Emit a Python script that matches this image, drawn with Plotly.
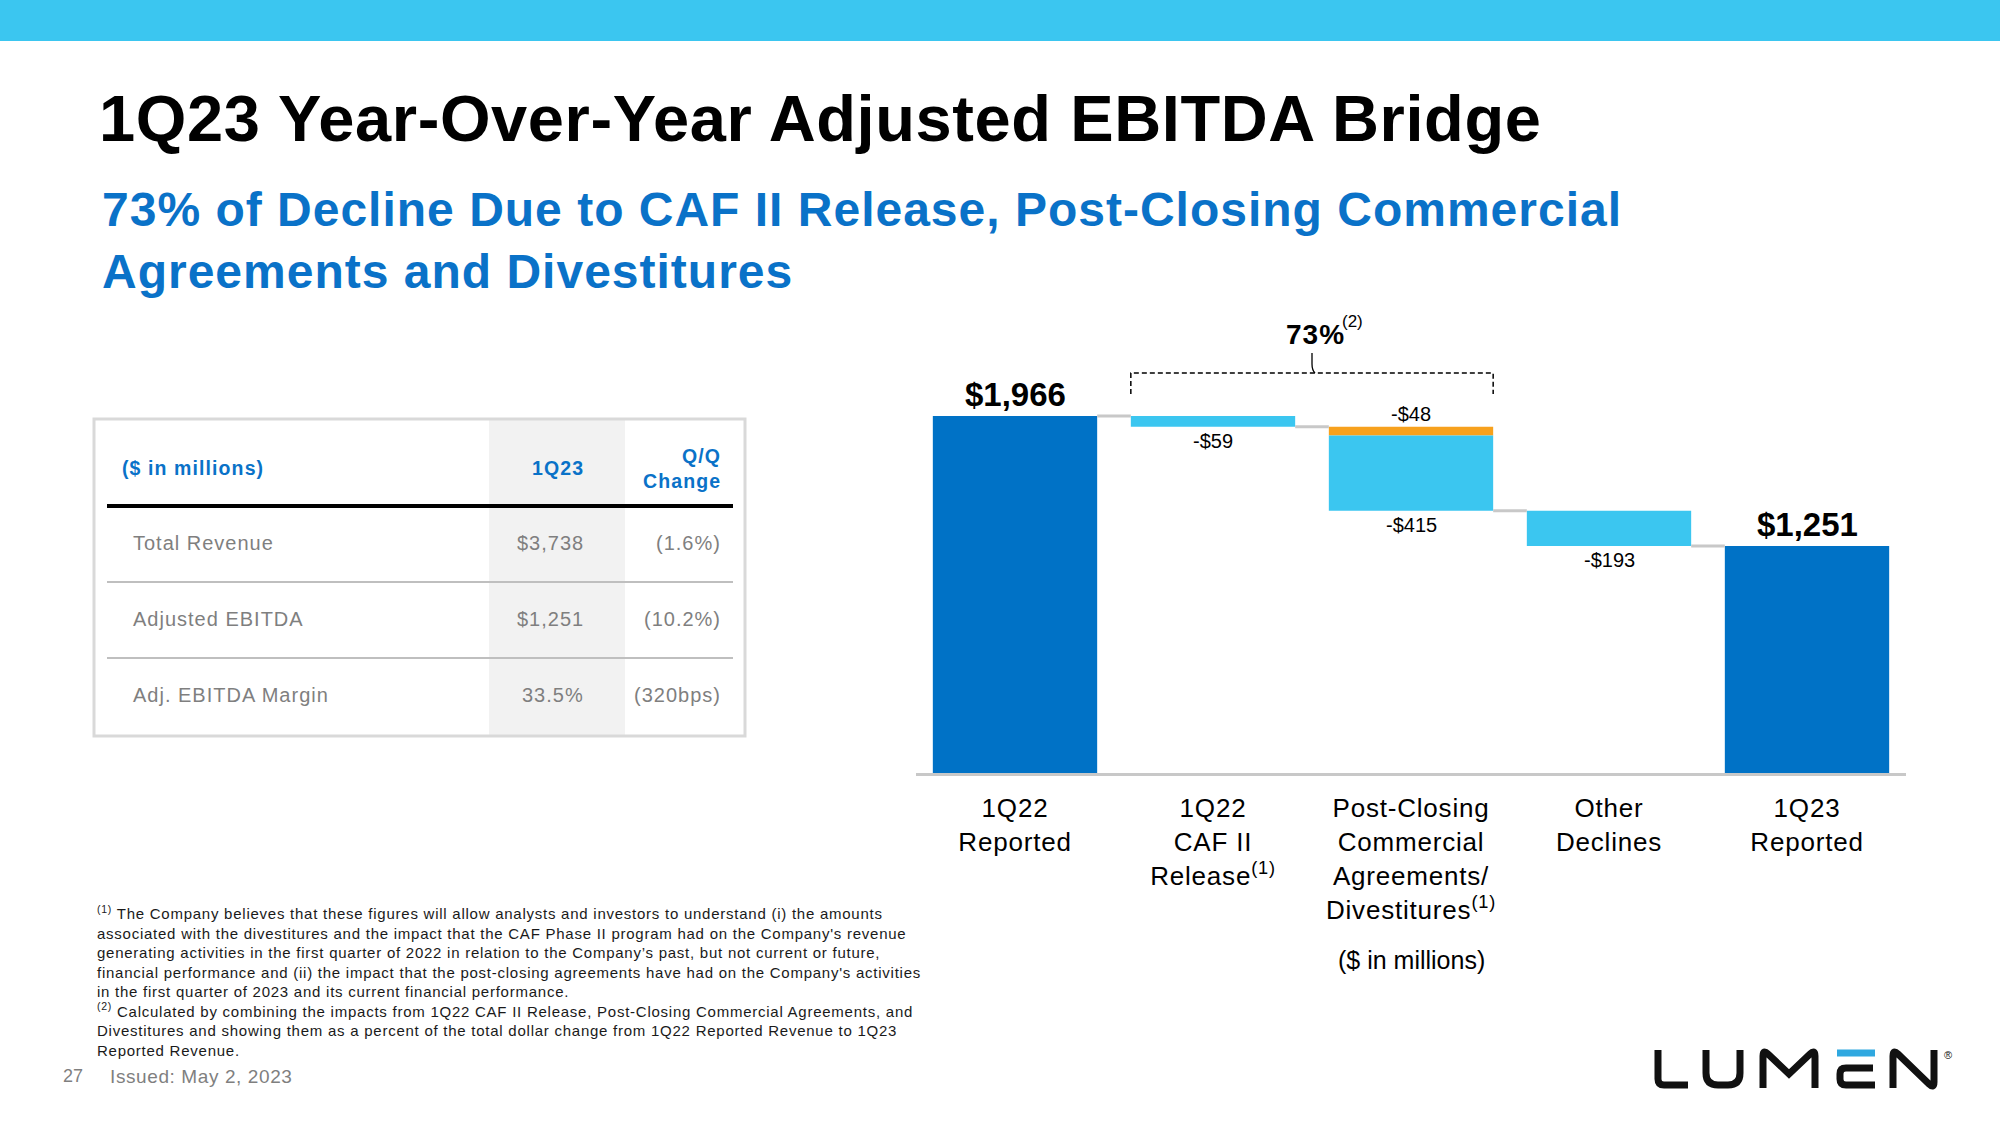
import plotly.graph_objects as go

# ---------------- data ----------------
categories = ["1Q22<br>Reported",
              "1Q22<br>CAF II<br>Release<sup>(1)</sup>",
              "Post-Closing<br>Commercial<br>Agreements/<br>Divestitures<sup>(1)</sup>",
              "Other<br>Declines",
              "1Q23<br>Reported"]
category_positions = [0, 1, 2, 3, 4]
total_positions = [0, 4]
total_values = [1966, 1251]
total_labels = ["$1,966", "$1,251"]
step_positions = [1, 2, 2, 3]
step_values = [-59, -48, -415, -193]
step_labels = ["-$59", "-$48", "-$415", "-$193"]
bracket_positions = [1, 2]
bracket_label = "73%"

table_columns = ["($ in millions)", "1Q23", "Q/Q<br>Change"]
table_metrics = ["Total Revenue", "Adjusted EBITDA", "Adj. EBITDA Margin"]
table_1q23 = ["$3,738", "$1,251", "33.5%"]
table_qq_change = ["(1.6%)", "(10.2%)", "(320bps)"]

footnotes = [
    "<sup>(1)</sup> The Company believes that these figures will allow analysts and investors to understand (i) the amounts",
    "associated with the divestitures and the impact that the CAF Phase II program had on the Company's revenue",
    "generating activities in the first quarter of 2022 in relation to the Company\u2019s past, but not current or future,",
    "financial performance and (ii) the impact that the post-closing agreements have had on the Company's activities",
    "in the first quarter of 2023 and its current financial performance.",
    "<sup>(2)</sup> Calculated by combining the impacts from 1Q22 CAF II Release, Post-Closing Commercial Agreements, and",
    "Divestitures and showing them as a percent of the total dollar change from 1Q22 Reported Revenue to 1Q23",
    "Reported Revenue.",
]

# ---------------- style ----------------
W, H = 2000, 1125
PL, PR, PT, PB = 916, 1906, 301, 773
XMIN, XMAX = -0.5, 4.5
YMAX = 2600
BW = 0.83
FONT = "Liberation Sans, Arial, Helvetica, sans-serif"
DARK = "#0072C6"
LIGHT = "#3BC6F0"
ORANGE = "#F7A11D"
BLUE_TXT = "#0A72C8"
GRAY_TXT = "#7F7F7F"
step_colors = [LIGHT, ORANGE, LIGHT, LIGHT]
step_label_side = ["below", "above", "below", "below"]


def fx(px):
    return (px - PL) / (PR - PL)


def fy(py):
    return (PB - py) / (PB - PT)


def xpx(d):
    return PL + (d - XMIN) / (XMAX - XMIN) * (PR - PL)


def ppath(cmds):
    out = []
    for c in cmds:
        op, pts = c[0], c[1:]
        coords = []
        for i in range(0, len(pts), 2):
            coords.append(f"{fx(pts[i]):.5f},{fy(pts[i + 1]):.5f}")
        out.append(op + " " + " ".join(coords))
    return " ".join(out)


def spaced(text, ls):
    return f"<span style='letter-spacing:{ls}px'>{text}</span>"


# ---------------- bars ----------------
running = total_values[0]
bases = []
levels = {total_positions[0]: running}
for pos, v in zip(step_positions, step_values):
    bases.append(running)
    running += v
    levels[pos] = running

fig = go.Figure()
fig.add_trace(go.Bar(x=total_positions, y=total_values, width=BW,
                     marker=dict(color=DARK, line=dict(width=0)),
                     hoverinfo="skip"))
fig.add_trace(go.Bar(x=step_positions, y=step_values, base=bases, width=BW,
                     marker=dict(color=step_colors, line=dict(width=0)),
                     hoverinfo="skip"))

shapes = []
annotations = []

# connectors
for i in category_positions[:-1]:
    shapes.append(dict(type="line", xref="x", yref="y",
                       x0=i + BW / 2, x1=i + 1 - BW / 2,
                       y0=levels[i], y1=levels[i],
                       line=dict(color="#C8C8C8", width=3)))

# value labels
for pos, v, lab in zip(total_positions, total_values, total_labels):
    annotations.append(dict(x=pos, y=v, xref="x", yref="y", text=f"<b>{lab}</b>",
                            showarrow=False, xanchor="center", yanchor="bottom", yshift=1,
                            font=dict(family=FONT, size=33, color="#000")))
for pos, b, v, lab, side in zip(step_positions, bases, step_values, step_labels, step_label_side):
    if side == "above":
        annotations.append(dict(x=pos, y=b, xref="x", yref="y", text=lab, showarrow=False,
                                xanchor="center", yanchor="bottom", yshift=0,
                                font=dict(family=FONT, size=20, color="#000")))
    else:
        annotations.append(dict(x=pos, y=b + v, xref="x", yref="y", text=lab, showarrow=False,
                                xanchor="center", yanchor="top", yshift=-1,
                                font=dict(family=FONT, size=20, color="#000")))

# bracket
bx0 = xpx(bracket_positions[0] - BW / 2)
bx1 = xpx(bracket_positions[1] + BW / 2)
bxm = (bx0 + bx1) / 2
dash = dict(color="#000", width=1.5, dash="5px,3px")
shapes.append(dict(type="path", xref="paper", yref="paper",
                   path=ppath([("M", bx0, 394), ("L", bx0, 373), ("L", bx1, 373), ("L", bx1, 394)]),
                   line=dash))
shapes.append(dict(type="path", xref="paper", yref="paper",
                   path=ppath([("M", bxm, 353), ("L", bxm, 364), ("Q", bxm, 370, bxm + 3, 373)]),
                   line=dict(color="#000", width=1.3)))
annotations.append(dict(x=fx(1284), y=fy(352), xref="paper", yref="paper",
                        text="<b>" + spaced(bracket_label, 1) + "</b>", showarrow=False,
                        xanchor="left", yanchor="bottom",
                        font=dict(family=FONT, size=28, color="#000")))
annotations.append(dict(x=fx(1340), y=fy(321), xref="paper", yref="paper",
                        text="(2)", showarrow=False,
                        xanchor="left", yanchor="middle",
                        font=dict(family=FONT, size=17, color="#000")))

annotations.append(dict(x=2, y=fy(960), xref="x", yref="paper", text="($ in millions)",
                        showarrow=False, xanchor="center", yanchor="middle",
                        font=dict(family=FONT, size=25, color="#000")))

# ---------------- page decoration ----------------
shapes.append(dict(type="rect", xref="paper", yref="paper", x0=fx(0), x1=fx(W), y0=fy(0), y1=fy(41),
                   fillcolor=LIGHT, line=dict(width=0), layer="below"))
annotations.append(dict(x=fx(97), y=fy(119), xref="paper", yref="paper",
                        text="<b>" + spaced("1Q23 Year-Over-Year Adjusted EBITDA Bridge", 0.6) + "</b>",
                        showarrow=False, xanchor="left", yanchor="middle",
                        font=dict(family=FONT, size=65, color="#000")))
annotations.append(dict(x=fx(100), y=fy(240), xref="paper", yref="paper",
                        text="<b>" + spaced("73% of Decline Due to CAF II Release, Post-Closing Commercial", 1)
                             + "<br>" + spaced("Agreements and Divestitures", 1) + "</b>",
                        showarrow=False, xanchor="left", yanchor="middle", align="left",
                        font=dict(family=FONT, size=48, color=BLUE_TXT)))

# ---------------- table ----------------
shapes.append(dict(type="rect", xref="paper", yref="paper", x0=fx(489), x1=fx(625), y0=fy(420), y1=fy(735),
                   fillcolor="#F2F2F2", line=dict(width=0), layer="below"))
shapes.append(dict(type="rect", xref="paper", yref="paper", x0=fx(94), x1=fx(745), y0=fy(419), y1=fy(736),
                   fillcolor="rgba(0,0,0,0)", line=dict(color="#D9D9D9", width=3)))
shapes.append(dict(type="line", xref="paper", yref="paper", x0=fx(107), x1=fx(733), y0=fy(506), y1=fy(506),
                   line=dict(color="#000", width=4)))
row_y = [543, 619, 695]
for yy in [582, 658]:
    shapes.append(dict(type="line", xref="paper", yref="paper", x0=fx(107), x1=fx(733), y0=fy(yy), y1=fy(yy),
                       line=dict(color="#BFBFBF", width=2)))
col_x = [120, 586, 723]
col_anchor = ["left", "right", "right"]
for txt, x, anc in zip(table_columns, col_x, col_anchor):
    annotations.append(dict(x=fx(x), y=fy(468), xref="paper", yref="paper",
                            text="<b>" + "<br>".join(spaced(t, 1.1) for t in txt.split("<br>")) + "</b>",
                            showarrow=False, xanchor=anc, yanchor="middle", align=anc,
                            font=dict(family=FONT, size=19.5, color=BLUE_TXT)))
for i in range(len(table_metrics)):
    for txt, x, anc in zip([table_metrics[i], table_1q23[i], table_qq_change[i]], [131, 586, 723],
                           col_anchor):
        annotations.append(dict(x=fx(x), y=fy(row_y[i]), xref="paper", yref="paper",
                                text=spaced(txt, 1), showarrow=False, xanchor=anc, yanchor="middle",
                                font=dict(family=FONT, size=20, color=GRAY_TXT)))

# ---------------- footnotes ----------------
annotations.append(dict(x=fx(95), y=fy(981), xref="paper", yref="paper",
                        text="<br>".join(spaced(t, 0.75) for t in footnotes),
                        showarrow=False, xanchor="left", yanchor="middle", align="left",
                        font=dict(family=FONT, size=15, color="#1A1A1A")))
annotations.append(dict(x=fx(85), y=fy(1076), xref="paper", yref="paper", text="27",
                        showarrow=False, xanchor="right", yanchor="middle",
                        font=dict(family=FONT, size=18, color=GRAY_TXT)))
annotations.append(dict(x=fx(108), y=fy(1076), xref="paper", yref="paper",
                        text=spaced("Issued: May 2, 2023", 0.6),
                        showarrow=False, xanchor="left", yanchor="middle",
                        font=dict(family=FONT, size=19, color=GRAY_TXT)))

# ---------------- logo ----------------
logo_line = dict(color="#111111", width=7)
logo_paths = [
    [("M", 1658, 1050), ("L", 1658, 1079), ("Q", 1658, 1085, 1664, 1085), ("L", 1688, 1085)],
    [("M", 1706, 1050), ("L", 1706, 1073), ("Q", 1706, 1085, 1718, 1085), ("L", 1728, 1085),
     ("Q", 1740, 1085, 1740, 1073), ("L", 1740, 1050)],
    [("M", 1763, 1088), ("L", 1763, 1056), ("Q", 1763, 1049, 1768, 1054), ("L", 1789, 1074),
     ("L", 1810, 1054), ("Q", 1815, 1049, 1815, 1056), ("L", 1815, 1088)],
    [("M", 1873, 1068), ("L", 1846, 1068), ("Q", 1840, 1068, 1840, 1074), ("L", 1840, 1079),
     ("Q", 1840, 1085, 1846, 1085), ("L", 1875, 1085)],
    [("M", 1893, 1088), ("L", 1893, 1056), ("Q", 1893, 1049, 1898, 1054), ("L", 1929, 1084),
     ("Q", 1934, 1089, 1934, 1082), ("L", 1934, 1050)],
]
for p in logo_paths:
    shapes.append(dict(type="path", xref="paper", yref="paper", path=ppath(p), line=logo_line))
shapes.append(dict(type="line", xref="paper", yref="paper", x0=fx(1837), x1=fx(1875), y0=fy(1053), y1=fy(1053),
                   line=dict(color="#2FA8E0", width=7)))
annotations.append(dict(x=fx(1948), y=fy(1055), xref="paper", yref="paper", text="®",
                        showarrow=False, xanchor="center", yanchor="middle",
                        font=dict(family=FONT, size=11, color="#111")))

tick_text = ["<br>".join(spaced(part, 0.8) for part in c.split("<br>")) for c in categories]

fig.update_layout(
    width=W, height=H, autosize=False,
    margin=dict(l=PL, r=W - PR, t=PT, b=H - PB, pad=0),
    paper_bgcolor="white", plot_bgcolor="white",
    barmode="overlay", showlegend=False, hovermode=False,
    xaxis=dict(range=[XMIN, XMAX], tickvals=category_positions, ticktext=tick_text,
               showgrid=False, zeroline=False, showline=True, linecolor="#C8C8C8", linewidth=3,
               ticks="", ticklabelstandoff=10,
               tickfont=dict(family=FONT, size=26, color="#000")),
    yaxis=dict(range=[0, YMAX], visible=False, showgrid=False, zeroline=False),
    shapes=shapes, annotations=annotations,
)

fig.write_html("out.html", config={"displayModeBar": False},
               post_script="document.body.style.margin='0px';")
